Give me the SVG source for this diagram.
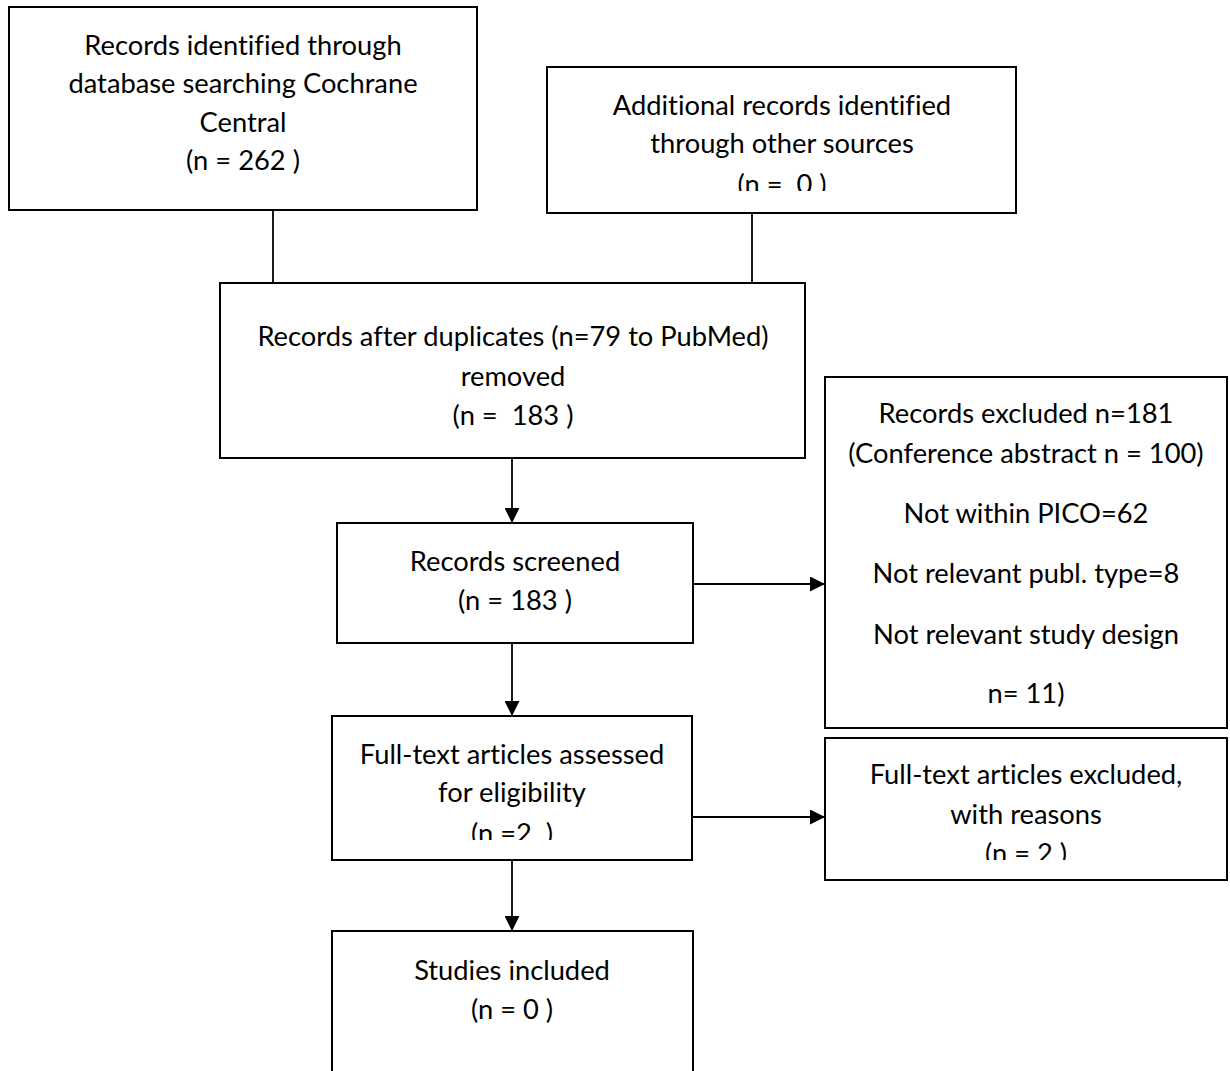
<svg xmlns="http://www.w3.org/2000/svg" width="1230" height="1071" viewBox="0 0 1230 1071">
<style>
.box{fill:#fff;stroke:#000;stroke-width:2}
.t{font-family:Lato,"Liberation Sans",sans-serif;font-size:27.3px;fill:#000;text-anchor:middle;font-variant-ligatures:none;font-feature-settings:"liga" 0}
.c{stroke:#000;stroke-width:1.8;fill:none}
</style>
<defs>
<marker id="ah" viewBox="0 0 10 10" refX="10" refY="5" markerUnits="userSpaceOnUse" markerWidth="15" markerHeight="15" orient="auto">
<path d="M0,0 L10,5 L0,10 Z" fill="#000"/>
</marker>
<clipPath id="clip2"><rect x="547" y="67" width="469" height="124"/></clipPath>
<clipPath id="clip6"><rect x="332" y="716" width="360" height="124"/></clipPath>
<clipPath id="clip8"><rect x="825" y="738" width="402" height="122"/></clipPath>
</defs>
<g id="connectors">
<line class="c" x1="273" y1="210" x2="273" y2="283"/>
<line class="c" x1="752" y1="213" x2="752" y2="283"/>
<line class="c" x1="512" y1="458" x2="512" y2="523" marker-end="url(#ah)"/>
<line class="c" x1="512" y1="643" x2="512" y2="716" marker-end="url(#ah)"/>
<line class="c" x1="512" y1="860" x2="512" y2="931" marker-end="url(#ah)"/>
<line class="c" x1="688" y1="584" x2="825" y2="584" marker-end="url(#ah)"/>
<line class="c" x1="692" y1="817" x2="825" y2="817" marker-end="url(#ah)"/>
</g>
<g id="n1">
<rect class="box" x="9" y="7" width="468" height="203"/>
<text class="t" x="243" y="55">Records identified through</text>
<text class="t" x="243" y="93">database searching Cochrane</text>
<text class="t" x="243" y="132">Central</text>
<text class="t" x="243" y="170">(n = 262 )</text>
</g>
<g id="n2">
<rect class="box" x="547" y="67" width="469" height="146"/>
<text class="t" x="782" y="115">Additional records identified</text>
<text class="t" x="782" y="153">through other sources</text>
<text class="t" x="782" y="194" clip-path="url(#clip2)" xml:space="preserve">(n =  0 )</text>
</g>
<g id="n3">
<rect class="box" x="220" y="283" width="585" height="175"/>
<text class="t" x="513" y="346">Records after duplicates (n=79 to PubMed)</text>
<text class="t" x="513" y="386">removed</text>
<text class="t" x="513" y="425" xml:space="preserve">(n =  183 )</text>
</g>
<g id="n4">
<rect class="box" x="337" y="523" width="356" height="120"/>
<text class="t" x="515" y="571">Records screened</text>
<text class="t" x="515" y="610">(n = 183 )</text>
</g>
<g id="n5">
<rect class="box" x="825" y="377" width="402" height="351"/>
<text class="t" x="1026" y="423">Records excluded n=181</text>
<text class="t" x="1026" y="463">(Conference abstract n = 100)</text>
<text class="t" x="1026" y="523">Not within PICO=62</text>
<text class="t" x="1026" y="583">Not relevant publ. type=8</text>
<text class="t" x="1026" y="644">Not relevant study design</text>
<text class="t" x="1026" y="703">n= 11)</text>
</g>
<g id="n6">
<rect class="box" x="332" y="716" width="360" height="144"/>
<text class="t" x="512" y="764">Full-text articles assessed</text>
<text class="t" x="512" y="802">for eligibility</text>
<text class="t" x="512" y="843" clip-path="url(#clip6)" xml:space="preserve">(n =2  )</text>
</g>
<g id="n7">
<rect class="box" x="332" y="931" width="361" height="150"/>
<text class="t" x="512" y="980">Studies included</text>
<text class="t" x="512" y="1019">(n = 0 )</text>
</g>
<g id="n8">
<rect class="box" x="825" y="738" width="402" height="142"/>
<text class="t" x="1026" y="784">Full-text articles excluded,</text>
<text class="t" x="1026" y="824">with reasons</text>
<text class="t" x="1026" y="863" clip-path="url(#clip8)">(n = 2 )</text>
</g>
</svg>
